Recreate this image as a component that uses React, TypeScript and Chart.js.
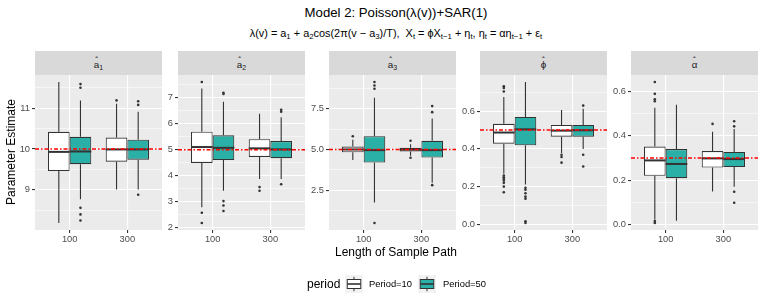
import React, { useEffect, useRef } from "react";
import { Chart, registerables } from "chart.js";

Chart.register(...registerables);

const FONT = '"Liberation Sans", Arial, Helvetica, sans-serif';

// ---------- data ----------
const lengthLabels = ["100", "300"];
const lengthPositions = [1, 2];
const periodLabels = ["Period=10", "Period=50"];
const periodFills = ["#FFFFFF", "#2AB0A6"];

// five-number summaries: [lower whisker, Q1, median, Q3, upper whisker], for length 100 and 300
const a1P10 = [[8.19, 9.46, 9.93, 10.42, 11.64], [9.01, 9.69, 9.99, 10.28, 11.11]];
const a1P50 = [[8.77, 9.63, 9.94, 10.3, 11.19], [9.01, 9.74, 9.99, 10.23, 10.91]];
const a1P10Out = [[], [11.19]];
const a1P50Out = [[11.59, 11.5, 8.56, 8.4, 8.25], [11.17, 11.08, 8.88]];
const a1Ticks = [9, 10, 11];
const a1TickLabels = ["9", "10", "11"];
const a1True = 10;

const a2P10 = [[2.78, 4.49, 5.1, 5.69, 7.35], [3.87, 4.72, 5.05, 5.4, 6.38]];
const a2P50 = [[3.42, 4.6, 5.07, 5.55, 6.84], [3.87, 4.67, 5.01, 5.33, 6.25]];
const a2P10Out = [[7.6, 2.57, 2.18], [3.56, 3.42]];
const a2P50Out = [[7.19, 7.14, 3.02, 2.85, 2.64], [6.53, 6.46, 3.67]];
const a2Ticks = [2, 3, 4, 5, 6, 7];
const a2TickLabels = ["2", "3", "4", "5", "6", "7"];
const a2True = 5;

const a3P10 = [[4.35, 4.83, 5.0, 5.18, 5.6], [4.61, 4.88, 5.0, 5.1, 5.32]];
const a3P50 = [[1.76, 4.2, 4.96, 5.81, 8.16], [2.96, 4.51, 4.96, 5.53, 6.9]];
const a3P10Out = [[5.81], [5.53, 4.49]];
const a3P50Out = [[9.12, 8.91, 8.71, 0.51], [7.65, 7.28, 2.82]];
const a3Ticks = [2.5, 5, 7.5];
const a3TickLabels = ["2.5", "5.0", "7.5"];
const a3True = 5;

const phiP10 = [[0.268, 0.428, 0.487, 0.533, 0.675], [0.378, 0.465, 0.497, 0.527, 0.607]];
const phiP50 = [[0.211, 0.419, 0.504, 0.57, 0.755], [0.4, 0.465, 0.499, 0.527, 0.613]];
const phiP10Out = [[0.733, 0.723, 0.705, 0.259, 0.25, 0.241, 0.232, 0.22, 0.2, 0.17], [0.369, 0.357, 0.327]];
const phiP50Out = [[0.194, 0.183, 0.165, 0.147, 0.136, 0.016, 0.007], [0.63, 0.369, 0.307]];
const phiTicks = [0, 0.2, 0.4, 0.6];
const phiTickLabels = ["0.0", "0.2", "0.4", "0.6"];
const phiTrue = 0.5;

const alphaP10 = [[0.024, 0.22, 0.289, 0.351, 0.525], [0.149, 0.257, 0.298, 0.331, 0.418]];
const alphaP50 = [[0.018, 0.209, 0.273, 0.34, 0.539], [0.171, 0.259, 0.295, 0.327, 0.43]];
const alphaP10Out = [[0.641, 0.588, 0.564, 0.555, 0.017, 0.008], [0.453]];
const alphaP50Out = [[], [0.465, 0.442, 0.148, 0.099]];
const alphaTicks = [0, 0.2, 0.4, 0.6];
const alphaTickLabels = ["0.0", "0.2", "0.4", "0.6"];
const alphaTrue = 0.3;

const stripSymbols = ["a", "a", "a", "\u03d5", "\u03b1"];
const stripSubs = ["1", "2", "3", "", ""];

// ---------- layout ----------
const PANEL_LEFTS = [35, 178, 329, 480, 631];
const PANEL_W = 127;
const PANEL_TOP = 75;
const PANEL_H = 155;
const YAXIS_W = 30;
const XAXIS_H = 22;
const BOX_LINE = "#333333";

type Spec = {
  p10: number[][];
  p50: number[][];
  p10Out: number[][];
  p50Out: number[][];
  ticks: number[];
  tickLabels: string[];
  trueValue: number;
};

const specs: Spec[] = [
  { p10: a1P10, p50: a1P50, p10Out: a1P10Out, p50Out: a1P50Out, ticks: a1Ticks, tickLabels: a1TickLabels, trueValue: a1True },
  { p10: a2P10, p50: a2P50, p10Out: a2P10Out, p50Out: a2P50Out, ticks: a2Ticks, tickLabels: a2TickLabels, trueValue: a2True },
  { p10: a3P10, p50: a3P50, p10Out: a3P10Out, p50Out: a3P50Out, ticks: a3Ticks, tickLabels: a3TickLabels, trueValue: a3True },
  { p10: phiP10, p50: phiP50, p10Out: phiP10Out, p50Out: phiP50Out, ticks: phiTicks, tickLabels: phiTickLabels, trueValue: phiTrue },
  { p10: alphaP10, p50: alphaP50, p10Out: alphaP10Out, p50Out: alphaP50Out, ticks: alphaTicks, tickLabels: alphaTickLabels, trueValue: alphaTrue },
];

function BoxPanel({ spec, left }: { spec: Spec; left: number }) {
  const ref = useRef<HTMLCanvasElement | null>(null);

  useEffect(() => {
    const canvas = ref.current;
    if (!canvas) return;
    const stats = [spec.p10, spec.p50];
    const outs = [spec.p10Out, spec.p50Out];
    const all = [...spec.p10.flat(), ...spec.p50.flat(), ...spec.p10Out.flat(), ...spec.p50Out.flat()];
    const lo = Math.min(...all);
    const hi = Math.max(...all);
    const pad = (hi - lo) * 0.05;
    const yMin = lo - pad;
    const yMax = hi + pad;
    const step = spec.ticks[1] - spec.ticks[0];
    const minors: number[] = [];
    minors.push(spec.ticks[0] - step / 2);
    spec.ticks.forEach((t) => minors.push(t + step / 2));
    const minorsIn = minors.filter((m) => m > yMin && m < yMax);
    const isMajor = (v: number) => spec.ticks.some((t) => Math.abs(t - v) < 1e-9);
    const yTickVals = [...spec.ticks, ...minorsIn].sort((a, b) => a - b);

    const extras = {
      id: "boxExtras",
      beforeDraw(chart: any) {
        const { ctx, chartArea: a } = chart;
        ctx.save();
        ctx.fillStyle = "#EBEBEB";
        ctx.fillRect(a.left, a.top, a.right - a.left, a.bottom - a.top);
        ctx.restore();
      },
      afterDatasetsDraw(chart: any) {
        const { ctx, chartArea: a } = chart;
        const ys = chart.scales.y;
        ctx.save();
        stats.forEach((group, di) => {
          const meta = chart.getDatasetMeta(di);
          meta.data.forEach((el: any, i: number) => {
            const s = group[i];
            const x = el.x;
            const w = el.width;
            ctx.setLineDash([]);
            ctx.strokeStyle = BOX_LINE;
            ctx.lineWidth = 1.1;
            ctx.beginPath();
            ctx.moveTo(x, ys.getPixelForValue(s[3]));
            ctx.lineTo(x, ys.getPixelForValue(s[4]));
            ctx.moveTo(x, ys.getPixelForValue(s[1]));
            ctx.lineTo(x, ys.getPixelForValue(s[0]));
            ctx.stroke();
            ctx.lineWidth = 2;
            ctx.beginPath();
            const ym = ys.getPixelForValue(s[2]);
            ctx.moveTo(x - w / 2, ym);
            ctx.lineTo(x + w / 2, ym);
            ctx.stroke();
            ctx.fillStyle = BOX_LINE;
            outs[di][i].forEach((v) => {
              ctx.beginPath();
              ctx.arc(x, ys.getPixelForValue(v), 1.3, 0, Math.PI * 2);
              ctx.fill();
            });
          });
        });
        const yr = ys.getPixelForValue(spec.trueValue);
        ctx.strokeStyle = "#FF0000";
        ctx.lineWidth = 1.5;
        ctx.setLineDash([4, 2, 1.5, 2]);
        ctx.beginPath();
        ctx.moveTo(a.left, yr);
        ctx.lineTo(a.right, yr);
        ctx.stroke();
        ctx.restore();
      },
    };

    const chart = new Chart(canvas, {
      type: "bar",
      data: {
        datasets: stats.map((group, di) => ({
          label: periodLabels[di],
          data: lengthPositions.map((x, i) => ({ x, y: [group[i][1], group[i][3]] })) as any,
          backgroundColor: periodFills[di],
          borderColor: BOX_LINE,
          borderWidth: 1.1,
          borderSkipped: false,
          categoryPercentage: 0.75,
          barPercentage: 1,
        })),
      },
      options: {
        responsive: false,
        animation: false,
        layout: { padding: 0 },
        plugins: {
          legend: { display: false },
          tooltip: { enabled: false },
          title: { display: false },
        },
        scales: {
          x: {
            type: "linear",
            min: 0.4,
            max: 2.6,
            offset: false,
            afterBuildTicks: (s: any) => {
              s.ticks = lengthPositions.map((v) => ({ value: v }));
            },
            afterFit: (s: any) => {
              s.height = XAXIS_H;
              s.paddingLeft = 0;
              s.paddingRight = 0;
            },
            ticks: {
              autoSkip: false,
              maxRotation: 0,
              padding: 1,
              color: "#4D4D4D",
              font: { family: FONT, size: 9.3 },
              callback: (_v: any, i: number) => lengthLabels[i],
            },
            grid: { color: "#FFFFFF", lineWidth: 1.1, tickColor: "#333333", tickLength: 3, offset: false },
            border: { display: false },
          },
          y: {
            type: "linear",
            min: yMin,
            max: yMax,
            afterBuildTicks: (s: any) => {
              s.ticks = yTickVals.map((v) => ({ value: v }));
            },
            afterFit: (s: any) => {
              s.width = YAXIS_W;
              s.paddingTop = 0;
              s.paddingBottom = 0;
            },
            ticks: {
              autoSkip: false,
              padding: 2,
              color: "#4D4D4D",
              font: { family: FONT, size: 9.3 },
              callback: (v: any) => {
                const k = spec.ticks.findIndex((t) => Math.abs(t - Number(v)) < 1e-9);
                return k >= 0 ? spec.tickLabels[k] : "";
              },
            },
            grid: {
              color: "#FFFFFF",
              lineWidth: (c: any) => (c.tick && isMajor(c.tick.value) ? 1.1 : 0.55),
              tickColor: (c: any) => (c.tick && isMajor(c.tick.value) ? "#333333" : "rgba(0,0,0,0)"),
              tickLength: 3,
            },
            border: { display: false },
          },
        },
      } as any,
      plugins: [extras],
    });
    return () => chart.destroy();
  }, [spec]);

  const w = PANEL_W + YAXIS_W;
  const h = PANEL_H + XAXIS_H;
  return (
    <canvas
      ref={ref}
      width={w}
      height={h}
      style={{ position: "absolute", left: left - YAXIS_W, top: PANEL_TOP, width: w, height: h }}
    />
  );
}

function LegendKey({ fill, left, top }: { fill: string; left: number; top: number }) {
  const s = 18;
  return (
    <svg width={s} height={s} style={{ position: "absolute", left, top }}>
      <rect x={0} y={0} width={s} height={s} fill="#F2F2F2" />
      <line x1={s / 2} x2={s / 2} y1={s * 0.1} y2={s * 0.25} stroke={BOX_LINE} strokeWidth={1} />
      <line x1={s / 2} x2={s / 2} y1={s * 0.75} y2={s * 0.9} stroke={BOX_LINE} strokeWidth={1} />
      <rect x={s * 0.125} y={s * 0.25} width={s * 0.75} height={s * 0.5} fill={fill} stroke={BOX_LINE} strokeWidth={1} />
      <line x1={s * 0.125} x2={s * 0.875} y1={s / 2} y2={s / 2} stroke={BOX_LINE} strokeWidth={1.6} />
    </svg>
  );
}

const subStyle: React.CSSProperties = { fontSize: "0.72em", verticalAlign: "-0.28em", lineHeight: 0 };

function Hat({ letter }: { letter: string }) {
  return (
    <span style={{ position: "relative", display: "inline-block" }}>
      {letter}
      <span
        style={{
          position: "absolute",
          left: 0,
          right: 0,
          top: "-0.42em",
          textAlign: "center",
          fontSize: "0.85em",
        }}
      >
        {"\u02c6"}
      </span>
    </span>
  );
}

export default function App() {
  return (
    <div
      style={{
        position: "absolute",
        left: 0,
        top: 0,
        width: 763,
        height: 305,
        background: "#FFFFFF",
        fontFamily: FONT,
        overflow: "hidden",
      }}
    >
      <div
        style={{
          position: "absolute",
          left: 35,
          width: 722,
          top: 5,
          height: 16,
          lineHeight: "16px",
          textAlign: "center",
          fontSize: 13.2,
          color: "#000",
          whiteSpace: "nowrap",
        }}
      >
        Model 2: Poisson(λ(v))+SAR(1)
      </div>
      <div
        style={{
          position: "absolute",
          left: 35,
          width: 722,
          top: 27,
          height: 13,
          lineHeight: "13px",
          textAlign: "center",
          fontSize: 10.9,
          color: "#000",
          whiteSpace: "nowrap",
        }}
      >
        λ(v) = a<sub style={subStyle}>1</sub> + a<sub style={subStyle}>2</sub>cos(2π(v − a
        <sub style={subStyle}>3</sub>)/T),&nbsp;&nbsp;X<sub style={subStyle}>t</sub> = ϕX
        <sub style={subStyle}>t−1</sub> + η<sub style={subStyle}>t</sub>, η<sub style={subStyle}>t</sub> = αη
        <sub style={subStyle}>t−1</sub> + ε<sub style={subStyle}>t</sub>
      </div>

      {PANEL_LEFTS.map((l, i) => (
        <div
          key={"strip" + i}
          style={{
            position: "absolute",
            left: l,
            top: 51,
            width: PANEL_W,
            height: 24,
            background: "#D9D9D9",
            display: "flex",
            alignItems: "center",
            justifyContent: "center",
            fontSize: 9.8,
            color: "#1A1A1A",
          }}
        >
          <span style={{ marginTop: 2 }}>
            <Hat letter={stripSymbols[i]} />
            {stripSubs[i] ? <sub style={subStyle}>{stripSubs[i]}</sub> : null}
          </span>
        </div>
      ))}

      {specs.map((s, i) => (
        <BoxPanel key={"panel" + i} spec={s} left={PANEL_LEFTS[i]} />
      ))}

      <div
        style={{
          position: "absolute",
          left: 2,
          top: 152,
          width: 0,
          height: 0,
        }}
      >
        <div
          style={{
            position: "absolute",
            left: 8.5,
            top: 0,
            transform: "translate(-50%, -50%) rotate(-90deg)",
            fontSize: 12,
            whiteSpace: "nowrap",
            color: "#000",
          }}
        >
          Parameter Estimate
        </div>
      </div>

      <div
        style={{
          position: "absolute",
          left: 35,
          width: 722,
          top: 245,
          height: 14,
          lineHeight: "14px",
          textAlign: "center",
          fontSize: 12,
          color: "#000",
        }}
      >
        Length of Sample Path
      </div>

      <div
        style={{
          position: "absolute",
          left: 307,
          top: 277,
          height: 14,
          lineHeight: "14px",
          fontSize: 12,
          color: "#000",
        }}
      >
        period
      </div>
      <LegendKey fill={periodFills[0]} left={345} top={275} />
      <div style={{ position: "absolute", left: 369, top: 278, lineHeight: "12px", fontSize: 9.4, color: "#000" }}>
        {periodLabels[0]}
      </div>
      <LegendKey fill={periodFills[1]} left={418} top={275} />
      <div style={{ position: "absolute", left: 443, top: 278, lineHeight: "12px", fontSize: 9.4, color: "#000" }}>
        {periodLabels[1]}
      </div>
    </div>
  );
}
